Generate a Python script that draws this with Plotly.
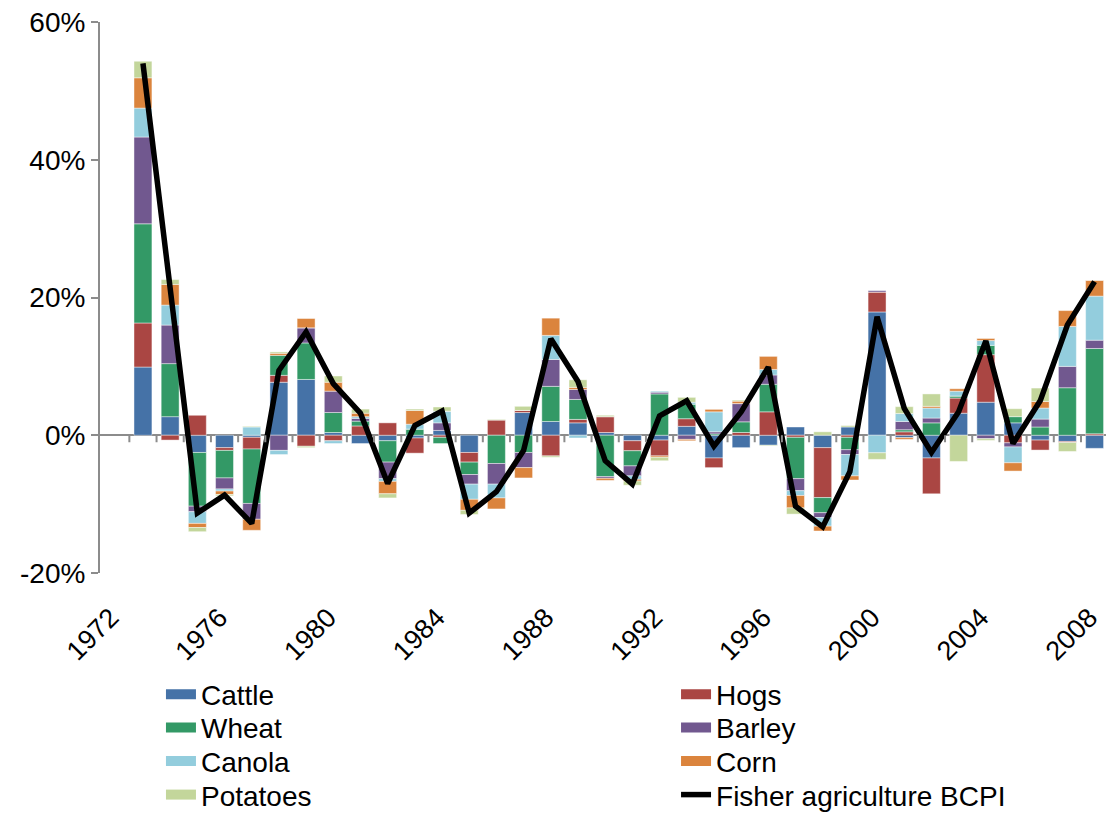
import plotly.graph_objects as go

# Year-over-year change in the agriculture BCPI and each commodity's contribution (percentage points)
years = list(range(1973, 2009))

cattle = [9.9, 2.7, -2.5, -1.8, -0.3, 7.7, 8.1, 0.4, -1.2, -0.8, -0.4, 0.7,
          -2.5, 0.0, 3.3, 2.0, 1.8, 0.4, -0.8, -0.7, 1.3, -3.3, -1.8, -1.45,
          1.2, -1.8, 1.2, 17.9, -0.35, -3.3, 3.2, 4.8, 1.8, -0.7, -0.9, -1.9]
hogs = [6.4, -0.7, 2.9, -0.4, -1.7, 1.0, -1.6, -0.8, 1.35, 1.8, -2.2, -0.3,
        -1.4, 2.2, 0.3, -3.0, 0.5, 2.3, -1.45, -2.3, 1.1, -1.4, 0.4, 3.4,
        -0.3, -7.25, -0.3, 2.9, 0.5, -5.2, 2.2, 6.9, -1.1, -1.45, -0.15, 0.2]
wheat = [14.4, 7.7, -7.8, -4.0, -7.9, 2.9, 5.3, 2.9, 0.7, -3.1, 0.9, -0.9,
         -1.8, -4.1, -2.5, 5.1, 2.9, -6.0, -2.2, 6.0, 2.1, 0.2, 1.55, 4.0,
         -6.0, -2.2, -1.8, 0.0, 0.3, 1.8, 0.3, 1.35, 0.9, 1.2, 6.9, 12.4]
barley = [12.6, 5.6, -0.8, -1.6, -2.3, -2.2, 2.2, 3.1, 0.4, -2.4, 0.0, 1.1,
          -1.4, -3.0, -2.2, 3.9, 1.45, -0.25, -1.45, 0.25, -0.6, 0.3, 2.65, 1.35,
          -1.75, -0.7, -0.7, 0.25, 1.2, 0.7, 0.0, -0.5, -0.6, 1.15, 3.1, 1.2]
canola = [4.2, 2.9, -1.7, -0.3, 1.2, -0.6, 0.0, -0.4, 0.25, -0.4, 0.7, 1.7,
          -2.2, -2.0, 0.0, 3.5, -0.4, 0.0, -0.5, 0.15, 0.3, 2.9, 0.0, 0.8,
          -0.7, -1.25, -3.1, -2.55, 1.15, 1.45, 0.7, 0.7, -2.3, 1.6, 5.8, 6.4]
corn = [4.4, 3.0, -0.6, -0.5, -1.6, 0.3, 1.35, 1.3, 0.5, -1.8, 2.0, 0.0,
        -1.6, -1.6, -1.5, 2.5, 0.3, -0.3, -0.25, -0.2, -0.2, 0.4, 0.35, 1.9,
        -1.8, -0.7, -0.6, 0.0, -0.25, 0.25, 0.35, 0.3, -1.2, 0.95, 2.3, 2.3]
potatoes = [2.4, 0.7, -0.6, -0.2, 0.1, 0.2, -0.2, 0.9, 0.6, -0.6, 0.2, 0.6,
            -0.6, 0.1, 0.6, -0.2, 1.1, 0.2, -0.6, -0.5, 0.7, 0.0, 0.15, -0.1,
            -0.9, 0.5, 0.2, -0.95, 1.0, 1.8, -3.8, -0.25, 1.15, 1.95, -1.3, 0.0]
fisher_bcpi = [54.0, 21.5, -11.3, -8.7, -12.8, 9.4, 15.0, 7.5, 3.2, -7.0, 1.4, 3.5,
               -11.3, -8.2, -2.2, 14.0, 7.8, -3.7, -7.1, 2.8, 5.0, -1.6, 3.4, 9.9,
               -10.3, -13.3, -5.3, 17.2, 3.9, -2.5, 3.4, 13.7, -1.2, 5.0, 16.0, 22.3]

series_names = ["Cattle", "Hogs", "Wheat", "Barley", "Canola", "Corn", "Potatoes"]
series_values = [cattle, hogs, wheat, barley, canola, corn, potatoes]
series_colors = ["#4572A7", "#AA4643", "#339966", "#71588F", "#93CDDD", "#DB843D", "#C3D69B"]
line_name = "Fisher agriculture BCPI"

tick_years = list(range(1972, 2009, 4))
tick_labels = [str(y) for y in tick_years]
y_ticks = [-20, 0, 20, 40, 60]
y_tick_labels = ["-20%", "0%", "20%", "40%", "60%"]

FONT = "Arial, Liberation Sans, sans-serif"

# legend key slots: two columns, four rows (row-major in series order)
legend_ids = ["legend"] + ["legend%d" % k for k in range(2, 9)]
legend_x = [0.0606, 0.5726]
legend_y = [-0.2205, -0.2809, -0.3416, -0.4027]

fig = go.Figure()

# stacked contribution bars
for name, vals, col in zip(series_names, series_values, series_colors):
    fig.add_trace(go.Bar(
        x=years, y=vals, name=name, marker_color=col,
        marker_line=dict(color="rgba(255,255,255,0.55)", width=0.8),
        showlegend=False,
    ))

# legend keys for the bar series (wide swatches)
for i, (name, col) in enumerate(zip(series_names, series_colors)):
    fig.add_trace(go.Scatter(
        x=[None], y=[None], mode="lines", name=name,
        line=dict(color=col, width=15), legend=legend_ids[i],
    ))

# aggregate index line
fig.add_trace(go.Scatter(
    x=years, y=fisher_bcpi, mode="lines", name=line_name,
    line=dict(color="black", width=5.5), legend=legend_ids[7],
))

legends = {}
for i, lid in enumerate(legend_ids):
    legends[lid] = dict(
        orientation="v", x=legend_x[i % 2], xanchor="left",
        y=legend_y[i // 2], yanchor="middle",
        font=dict(family=FONT, size=28, color="black"),
        itemwidth=30, bgcolor="rgba(0,0,0,0)", borderwidth=0,
    )

# short tick marks on the zero line between categories
boundaries = [y + 0.5 for y in range(1972, 2008)]
shapes = [dict(type="line", xref="x", yref="y", x0=b, x1=b,
               ysizemode="pixel", yanchor=0, y0=0, y1=-7,
               line=dict(color="#8c8c8c", width=2))
          for b in boundaries]

fig.update_layout(
    width=1106, height=813,
    barmode="relative", bargap=0.34,
    plot_bgcolor="white", paper_bgcolor="white",
    font=dict(family=FONT, size=28, color="black"),
    margin=dict(l=100, r=0, t=22, b=240, autoexpand=False),
    shapes=shapes,
    showlegend=True,
    xaxis=dict(
        range=[1971.42, 2008.42],
        tickmode="array", tickvals=tick_years, ticktext=tick_labels,
        tickangle=-45, showgrid=False, showline=False, zeroline=False,
        ticks="outside", ticklen=17, tickcolor="rgba(0,0,0,0)",
        ticklabeloverflow="allow", ticklabelshift=-5,
        tickfont=dict(family=FONT, size=27),
    ),
    yaxis=dict(
        range=[-20, 60], tickmode="array", tickvals=y_ticks, ticktext=y_tick_labels,
        showgrid=False, showline=True, linecolor="#8c8c8c", linewidth=2,
        ticks="outside", ticklen=7, tickcolor="#8c8c8c", tickwidth=2,
        zeroline=True, zerolinecolor="#8c8c8c", zerolinewidth=2,
        layer="above traces",
        tickfont=dict(family=FONT, size=28),
    ),
    **legends,
)

fig.write_html("out.html")
